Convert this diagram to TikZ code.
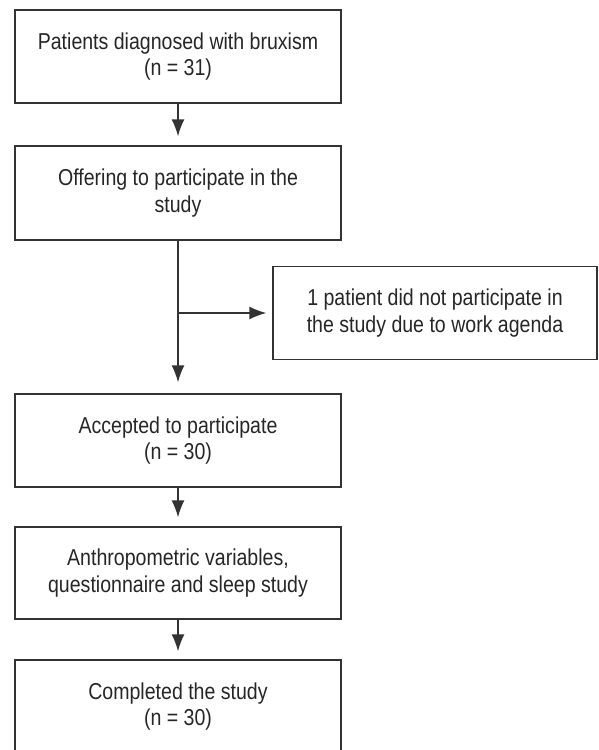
\documentclass[tikz,border=0pt]{standalone}
\usepackage{fontspec}
\setmainfont[FakeStretch=0.85]{Liberation Sans}
\usepackage{xcolor}
\usepackage{tikz}
\usetikzlibrary{arrows.meta}
\definecolor{linegray}{HTML}{333333}
\definecolor{textgray}{HTML}{262626}
\tikzset{
	flowbox/.style = {draw = linegray, line width = 1.4pt, text = textgray, minimum width = 326pt, minimum height = 93pt, align = center, inner sep = 0pt, font = \fontsize{23}{26.5}\selectfont},
	flowarrow/.style = {draw = linegray, line width = 1.4pt, shorten > = 9pt, -{Latex[length = 17pt, width = 13pt]}}
}
\begin{document}
\begin{tikzpicture}[x = 1pt, y = -1pt]%
		\useasboundingbox (0, 0) rectangle (598, 750);

		% main column
		\node[flowbox] (diag) at (178, 56.5) {Patients diagnosed with bruxism\\(n = 31)};
		\node[flowbox, minimum height = 94pt] (offer) at (178, 193) {Offering to participate in the\\study};
		\node[flowbox] (accept) at (178, 440.5) {Accepted to participate\\(n = 30)};
		\node[flowbox, minimum height = 92pt] (anthro) at (178, 573) {Anthropometric variables,\\questionnaire and sleep study};
		\node[flowbox] (done) at (178, 706.5) {Completed the study\\(n = 30)};

		% side box
		\node[flowbox, minimum width = 324pt] (nopart) at (435, 313) {1 patient did not participate in\\the study due to work agenda};

		% arrows
		\draw[flowarrow] (diag) -- (offer);
		\draw[flowarrow, shorten > = 11pt] (offer) -- (accept);
		\draw[flowarrow] (accept) -- (anthro);
		\draw[flowarrow, shorten > = 8pt] (anthro) -- (done);

		\coordinate (branch) at (offer.south |- nopart.west);
		\draw[flowarrow, shorten > = 6pt] (branch) -- (nopart.west);
	\end{tikzpicture}
\end{document}
